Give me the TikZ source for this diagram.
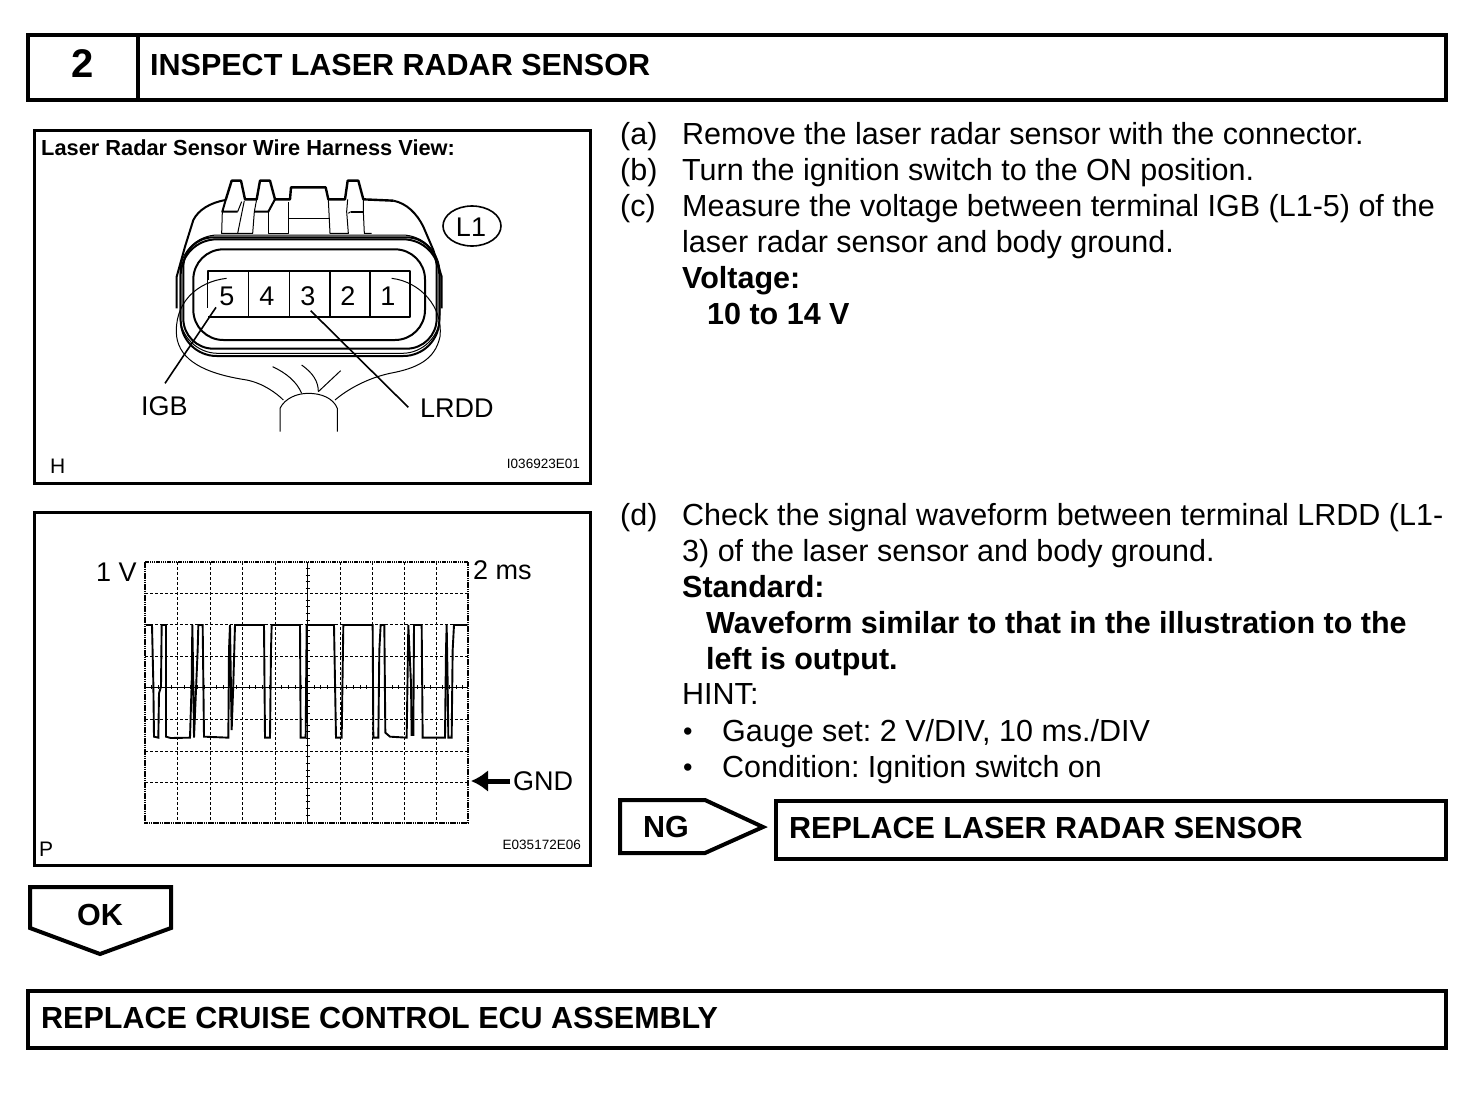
\documentclass[tikz,border=0pt]{standalone}
\usepackage{fontspec}
\setmainfont{Liberation Sans}
\usetikzlibrary{arrows.meta}
\tikzset{
  x=1pt,y=-1pt,
  frame/.style={draw=black,line width=4pt,fill=white},
  panel/.style={draw=black,line width=3pt},
  body/.style={anchor=base west,inner sep=0pt,font=\fontsize{30.5}{36}\selectfont\frenchspacing},
  bodyb/.style={anchor=base west,inner sep=0pt,font=\fontsize{30.5}{36}\selectfont\bfseries\frenchspacing},
  bullet mark/.style={anchor=base west,inner sep=0pt,font=\fontsize{27}{36}\selectfont},
  head/.style={anchor=base west,inner sep=0pt,font=\fontsize{30.5}{36}\selectfont\bfseries},
  lab/.style={anchor=base west,inner sep=0pt,font=\fontsize{27}{30}\selectfont},
  term/.style={anchor=base,inner sep=0pt,font=\fontsize{27}{30}\selectfont},
  tiny/.style={anchor=base east,inner sep=0pt,font=\fontsize{13.5}{15}\selectfont},
  corner/.style={anchor=base west,inner sep=0pt,font=\fontsize{21}{24}\selectfont},
  thin line/.style={line width=1pt,line join=round},
  shell/.style={line width=2pt,line join=round},
  grid line/.style={line width=1pt,dash pattern=on 3pt off 2pt},
  wave/.style={line width=1.9pt,line join=miter},
  zoomA/.style={shift={(130,160)},x=.33333pt,y=-.33333pt},
  zoomB/.style={shift={(130,550)},x=.33333pt,y=-.33333pt},
  zoomC/.style={shift={(205,170)},x=.33333pt,y=-.33333pt}
}
\begin{document}
\begin{tikzpicture}
\useasboundingbox (0,0) rectangle (1472,1100);
\fill[white] (0,0) rectangle (1472,1100);
% header
\draw[frame] (28,35) rectangle (1446,100);
\draw[line width=4pt] (138,35) -- (138,100);
\node[anchor=base,inner sep=0pt,font=\fontsize{40}{44}\selectfont\bfseries] (num) at (83,77) {2};
\node[head] (title) at (150,75) {INSPECT LASER RADAR SENSOR};
% panels
\draw[panel] (34,130) rectangle (590,483);
\draw[panel] (34,512) rectangle (590,865);
\node[anchor=base west,inner sep=0pt,font=\fontsize{21.8}{24}\selectfont\bfseries] (ptitle) at (41,155) {Laser Radar Sensor Wire Harness View:};
\node[corner] (cH) at (50,473) {H};
\node[tiny] (idA) at (580,468) {I036923E01};
\node[corner] (cP) at (39,856) {P};
\node[tiny] (idB) at (581,849) {E035172E06};
% connector drawing
\begin{scope}[zoomC]
  \draw[line width=2.4pt,line join=round] (62,90) -- (80,32) -- (108,32) -- (120,88) -- (155,88) -- (165,32) -- (195,32) -- (210,88) -- (255,88) -- (258,52) -- (362,52) -- (370,88) -- (420,88) -- (428,32) -- (460,32) -- (475,88) -- (565,92);
  \draw[shell] (62,90) -- (52,125) -- (98,125);
  \draw[thin line] (52,125) -- (50,190) -- (143,190) -- (148,125) -- (155,88);
  \draw[thin line] (98,190) -- (118,92);
  \draw[thin line] (98,125) -- (110,95);
  \draw[shell] (148,125) -- (190,125) -- (210,88);
  \draw[thin line] (190,125) -- (190,190) -- (250,190) -- (250,95);
  \draw[thin line] (250,145) -- (375,145);
  \draw[thin line] (370,88) -- (375,190) -- (430,190) -- (425,125) -- (428,88);
  \draw[shell] (437,125) -- (475,125);
  \draw[thin line] (430,130) -- (437,125);
  \draw[thin line] (475,88) -- (475,125) -- (478,190) -- (500,190);
\end{scope}
\begin{scope}[zoomA]
  \draw[shell] (140,445) -- (140,350) -- (165,260) -- (190,180) .. controls (205,150) and (240,128) .. (287,120);
  \draw[shell] (790,122) .. controls (830,130) and (860,160) .. (880,200) -- (910,270) -- (935,350) -- (935,445);
  \draw[thin line,rounded corners=38pt] (150,225) rectangle (930,580);
  \draw[shell,rounded corners=36pt] (152,238) rectangle (928,588);
  \draw[shell,rounded corners=30pt] (160,232) rectangle (920,566);
  \draw[shell,rounded corners=30pt,fill=white] (190,268) rectangle (885,540);
  \draw[shell] (233,360) -- (233,333) -- (840,333) -- (840,470) -- (233,470);
  \draw[thin line] (233,360) -- (233,445);
  \foreach \x in {356,478,600,720}{\draw[line width=1.3pt] (\x,333) -- (\x,470);}
  \draw[thin line] (290,355) .. controls (200,365) and (130,430) .. (140,530) .. controls (150,600) and (220,640) .. (350,660) .. controls (400,670) and (440,700) .. (460,720);
  \draw[thin line] (785,355) .. controls (870,365) and (940,440) .. (930,530) .. controls (915,600) and (860,625) .. (780,640) .. controls (710,655) and (650,690) .. (615,720);
  \draw[thin line] (450,815) -- (450,745) .. controls (465,715) and (500,700) .. (535,700) .. controls (575,700) and (610,715) .. (622,745) -- (622,815);
  \draw[thin line] (428,620) .. controls (470,640) and (500,665) .. (515,700);
  \draw[thin line] (515,615) .. controls (550,640) and (565,665) .. (565,695);
  \draw[thin line] (632,632) -- (565,695);
  \coordinate (tipFive) at (258,442);
  \coordinate (endIGB) at (105,670);
  \coordinate (tipThree) at (542,452);
  \coordinate (endLRDD) at (835,742);
  \draw[line width=1.6pt] (tipFive) -- (endIGB);
  \draw[line width=1.6pt] (tipThree) -- (endLRDD);
\end{scope}
\foreach \n/\x/\t in {t5/227/5,t4/267/4,t3/308/3,t2/348/2,t1/388/1}{\node[term] (\n) at (\x,305) {\t};}
\node[lab] (lIGB) at (141,415) {IGB};
\node[lab] (lLRDD) at (420,417) {LRDD};
\draw[line width=1.6pt] (472,226) ellipse (29 and 20);
\node[term] (lL) at (471,236) {L1};
% scope plot
\begin{scope}[zoomB]
  \foreach \x in {143,241,338,436,630,727,822,918}{\draw[grid line] (\x,36) -- (\x,818);}
  \foreach \y in {130,222,318,508,603,697}{\draw[grid line] (46,\y) -- (1015,\y);}
  \draw[line width=1pt] (46,412) -- (1015,412);
  \draw[line width=1pt] (533,36) -- (533,818);
  \foreach \y in {55,75,95,115,150,170,190,210,240,260,280,300,335,355,375,395,430,450,470,490,525,545,565,585,620,640,660,680,715,735,755,775,795}{\draw[line width=1pt] (527,\y) -- (539,\y);}
  \foreach \x in {65,85,105,125,162,182,202,222,260,280,300,320,357,377,397,417,455,475,495,515,552,572,592,612,650,670,690,710,746,766,786,806,842,862,882,902,938,958,978,998}{\draw[line width=1pt] (\x,406) -- (\x,418);}
  \draw[line width=2pt,dash pattern=on 1.5pt off .7pt] (46,36) rectangle (1015,818);
  \draw[wave] (48,225) -- (66,225) -- (70,400) -- (72,560) -- (85,563) -- (87,430) -- (93,410) -- (95,225) -- (108,225) -- (108,560) -- (122,564) -- (180,563) -- (185,400) -- (187,225) -- (190,400) -- (192,563) -- (198,420) -- (203,300) -- (205,225) -- (218,225) -- (222,560) -- (295,563) -- (297,300) -- (300,225) -- (303,420) -- (305,540) -- (310,400) -- (315,225) -- (402,225) -- (405,563) -- (420,563) -- (423,300) -- (425,225) -- (510,225) -- (512,563) -- (527,563) -- (530,225) -- (612,225) -- (618,563) -- (635,563) -- (640,225) -- (728,225) -- (730,563) -- (745,563) -- (748,300) -- (752,225) -- (763,225) -- (766,548) -- (780,560) -- (830,563) -- (835,225) -- (843,400) -- (845,555) -- (850,555) -- (852,225) -- (875,225) -- (878,563) -- (945,563) -- (948,300) -- (950,225) -- (953,400) -- (955,563) -- (965,563) -- (968,300) -- (972,225) -- (1012,225);
\end{scope}
\node[lab] (lV) at (96,581) {1 V};
\node[lab] (lMs) at (473,579) {2 ms};
\node[lab] (lGND) at (513,790) {GND};
\coordinate (gndA) at (510,781);
\coordinate (gndB) at (471,781);
\draw[line width=5pt,-{Latex[length=17pt,width=22pt]}] (gndA) -- (gndB);
% right text
\node[body] (a1) at (620,144) {(a)};
\node[body] (a2) at (682,144) {Remove the laser radar sensor with the connector.};
\node[body] (b1) at (620,180) {(b)};
\node[body] (b2) at (682,180) {Turn the ignition switch to the ON position.};
\node[body] (c1) at (620,216) {(c)};
\node[body] (c2) at (682,216) {Measure the voltage between terminal IGB (L1-5) of the};
\node[body] (c3) at (682,252) {laser radar sensor and body ground.};
\node[bodyb] (c4) at (682,288) {Voltage:};
\node[bodyb] (c5) at (707,324) {10 to 14 V};
\node[body] (d1) at (620,525) {(d)};
\node[body] (d2) at (682,525) {Check the signal waveform between terminal LRDD (L1-};
\node[body] (d3) at (682,561) {3) of the laser sensor and body ground.};
\node[bodyb] (d4) at (682,597) {Standard:};
\node[bodyb] (d5) at (706,633) {Waveform similar to that in the illustration to the};
\node[bodyb] (d6) at (706,669) {left is output.};
\node[body] (d7) at (682,704) {HINT:};
\node[bullet mark] (e1) at (683,740) {•};
\node[body] (e2) at (722,741) {Gauge set: 2 V/DIV, 10 ms./DIV};
\node[bullet mark] (f1) at (683,776) {•};
\node[body] (f2) at (722,777) {Condition: Ignition switch on};
% NG / OK
\draw[line width=4pt,line join=miter] (620,800) -- (705,800) -- (763,827) -- (705,853) -- (620,853) -- cycle;
\node[head] (ng) at (643,837) {NG};
\draw[frame] (776,801) rectangle (1446,859);
\node[head] (rep1) at (789,838) {REPLACE LASER RADAR SENSOR};
\draw[line width=4pt,line join=miter] (30,887) -- (171,887) -- (171,928) -- (100,954) -- (30,928) -- cycle;
\node[head] (ok) at (77,925) {OK};
\draw[frame] (28,991) rectangle (1446,1048);
\node[head] (rep2) at (41,1028) {REPLACE CRUISE CONTROL ECU ASSEMBLY};
\end{tikzpicture}
\end{document}
